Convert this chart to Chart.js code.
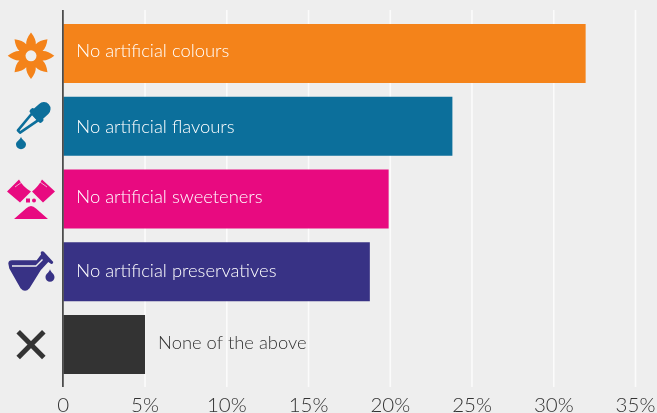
<!DOCTYPE html>
<html>
<head>
<meta charset="utf-8">
<style>
html,body{margin:0;padding:0;background:#eeeeee;overflow:hidden}
#wrap{position:relative;width:657px;height:413px}
</style>
<script src="https://cdn.jsdelivr.net/npm/chart.js@4"></script>
</head>
<body>
<div id="wrap"><canvas id="c" width="657" height="413"></canvas></div>
<script>
const categories = ["No artificial colours","No artificial flavours","No artificial sweeteners","No artificial preservatives","None of the above"];
const shares = [31.95,23.8,19.9,18.75,5];
const barColours = ["#f4831a","#0c6f9b","#e80a80","#383285","#333333"];
const tickValues = [0,5,10,15,20,25,30,35];
const tickLabels = ["0","5%","10%","15%","20%","25%","30%","35%"];

const BG = "#eeeeee", INK = "#333333";
const FONT = "Lato";
const TEXT_SHIFT = [-2,1,-2,-0.5,-2];

// Icon outlines, drawn relative to the centre of each row's icon column.
function flower(g){
  const p = new Path2D(), n = 8, cy = 2.4;
  for(let i=0;i<n;i++){
    const a = -Math.PI/2 + i*2*Math.PI/n, b = a+Math.PI/n, c = a+2*Math.PI/n;
    const tip = (ang,r)=>[r*Math.cos(ang),cy+r*Math.sin(ang)];
    const t = tip(a,23.3), v = tip(b,12.5), q1 = tip(a+0.3,17.5), q2 = tip(c-0.3,17.5), t2 = tip(c,23.3);
    if(i===0) p.moveTo(t[0],t[1]);
    p.quadraticCurveTo(q1[0],q1[1],v[0],v[1]);
    p.quadraticCurveTo(q2[0],q2[1],t2[0],t2[1]);
  }
  p.closePath();
  g.fill(p);
  g.fillStyle = BG;
  g.beginPath(); g.arc(0,cy,5.5,0,Math.PI*2); g.fill();
}
function dropper(g){
  g.save();
  g.translate(-12,5.3);
  g.rotate(-0.74);
  // tube, collar and bulb along the local x axis
  g.lineWidth = 2.6; g.lineJoin = "round";
  g.strokeStyle = g.fillStyle;
  g.beginPath(); g.moveTo(0,-1.6); g.lineTo(22,-4.6); g.lineTo(22,4.6); g.lineTo(0,1.6); g.closePath(); g.stroke();
  g.beginPath(); g.roundRect(21,-8.6,5.5,17.2,2); g.fill();
  g.beginPath(); g.moveTo(25,-6.8); g.lineTo(33.5,-6.8); g.arc(33.5,0,6.8,-Math.PI/2,Math.PI/2); g.lineTo(25,6.8); g.closePath(); g.fill();
  g.restore();
  g.beginPath();
  g.moveTo(-10,10.5);
  g.bezierCurveTo(-9,14,-5,15,-5,18);
  g.arc(-10,18,5,0,Math.PI);
  g.bezierCurveTo(-15,15,-11,14,-10,10.5);
  g.fill();
}
function sweetener(g){
  g.fill(new Path2D("M-12 -19.5 L-24 -7.5 L-11 3.5 L0 -7.5 Q-8 -12 -12 -19.5 Z"));
  g.fill(new Path2D("M11 -19.5 L24 -7.5 L12 3.5 L1 -7.5 Q7 -12 11 -19.5 Z"));
  g.fillRect(-5,-0.5,4,4);
  g.beginPath(); g.arc(3,1.5,2,0,Math.PI*2); g.fill();
  g.fill(new Path2D("M-17 20 L-5 9.5 Q0 4.5 5 9.5 L17 20 Z"));
  g.strokeStyle = BG; g.lineWidth = 0.7;
  g.beginPath(); g.moveTo(-16,-12); g.lineTo(-9,-17); g.moveTo(16,-12); g.lineTo(9,-17); g.stroke();
}
function flask(g){
  g.fill(new Path2D("M-22.7 -8.2 Q-22.5 -11.5 -19 -11.5 L5.7 -11.5 L10 -17.2 Q9 -20.5 11.5 -20.5 Q13 -20.5 14 -18.8 L22.3 -9.8 Q22 -7.5 20.2 -7.8 L17.3 -9.8 L9.7 -1.5 L-1.5 16.5 Q-6 21.5 -10.5 16.5 L-21.7 -3.2 Z"));
  g.strokeStyle = BG; g.lineWidth = 1.4;
  g.beginPath(); g.moveTo(-19,-5.8); g.lineTo(5,-5.8); g.lineTo(11.5,-12.4); g.stroke();
  g.beginPath();
  g.moveTo(19,-2.5);
  g.bezierCurveTo(20,1,23.5,2,23.5,5.5);
  g.arc(19,5.5,4.5,0,Math.PI);
  g.bezierCurveTo(14.5,2,18,1,19,-2.5);
  g.fill();
}
function cross(g){
  g.strokeStyle = g.fillStyle; g.lineWidth = 5;
  g.beginPath(); g.moveTo(-12.8,-12.8); g.lineTo(12.8,12.8); g.moveTo(12.8,-12.8); g.lineTo(-12.8,12.8); g.stroke();
}
const icons = [flower,dropper,sweetener,flask,cross];
const ICON_X = 31;

// Vertical rules run a little past the plot area, behind the bars.
const rules = {
  id:"rules",
  beforeDatasetsDraw(chart){
    const g = chart.ctx, x = chart.scales.x;
    g.save();
    g.strokeStyle = "#fbfbfb"; g.lineWidth = 1.6;
    tickValues.slice(1).forEach(v=>{
      const px = x.getPixelForValue(v);
      g.beginPath(); g.moveTo(px,10); g.lineTo(px,387); g.stroke();
    });
    g.restore();
  },
  afterDatasetsDraw(chart){
    const g = chart.ctx, x = chart.scales.x, y = chart.scales.y;
    g.save();
    // baseline
    g.strokeStyle = "#3a3a3a"; g.lineWidth = 1.6;
    const x0 = x.getPixelForValue(0);
    g.beginPath(); g.moveTo(x0-0.4,10); g.lineTo(x0-0.4,387); g.stroke();
    // category names: inside long bars, beside short ones
    g.font = "300 18.4px "+FONT;
    g.textBaseline = "middle";
    categories.forEach((name,i)=>{
      const py = y.getPixelForValue(i)+TEXT_SHIFT[i];
      const inside = shares[i] > 10;
      g.fillStyle = inside ? "#ffffff" : INK;
      g.fillText(name, inside ? x0+13 : x.getPixelForValue(shares[i])+13, py);
    });
    // icon column
    icons.forEach((draw,i)=>{
      g.save();
      g.translate(ICON_X,y.getPixelForValue(i));
      g.fillStyle = barColours[i];
      draw(g);
      g.restore();
    });
    g.restore();
  }
};

new Chart(document.getElementById("c"),{
  type:"bar",
  data:{labels:categories,datasets:[{data:shares,backgroundColor:barColours,borderWidth:0,barPercentage:0.81,categoryPercentage:1}]},
  plugins:[rules],
  options:{
    indexAxis:"y",responsive:false,animation:false,
    layout:{padding:{top:17,right:21.5,bottom:0,left:0}},
    plugins:{legend:{display:false},tooltip:{enabled:false}},
    scales:{
      x:{
        min:0,max:35,
        grid:{display:false},border:{display:false},
        afterBuildTicks(s){s.ticks = tickValues.map(v=>({value:v}));},
        afterFit(s){s.height = 32; s.paddingLeft = 0; s.paddingRight = 0;},
        ticks:{autoSkip:false,maxRotation:0,padding:4,color:INK,font:{family:FONT,size:20.5,weight:"300"},
          callback:(v)=>tickLabels[tickValues.indexOf(v)]}
      },
      y:{
        grid:{display:false},border:{display:false},
        ticks:{display:false},
        afterFit(s){s.width = 63.3;}
      }
    }
  }
});
</script>
</body>
</html>
